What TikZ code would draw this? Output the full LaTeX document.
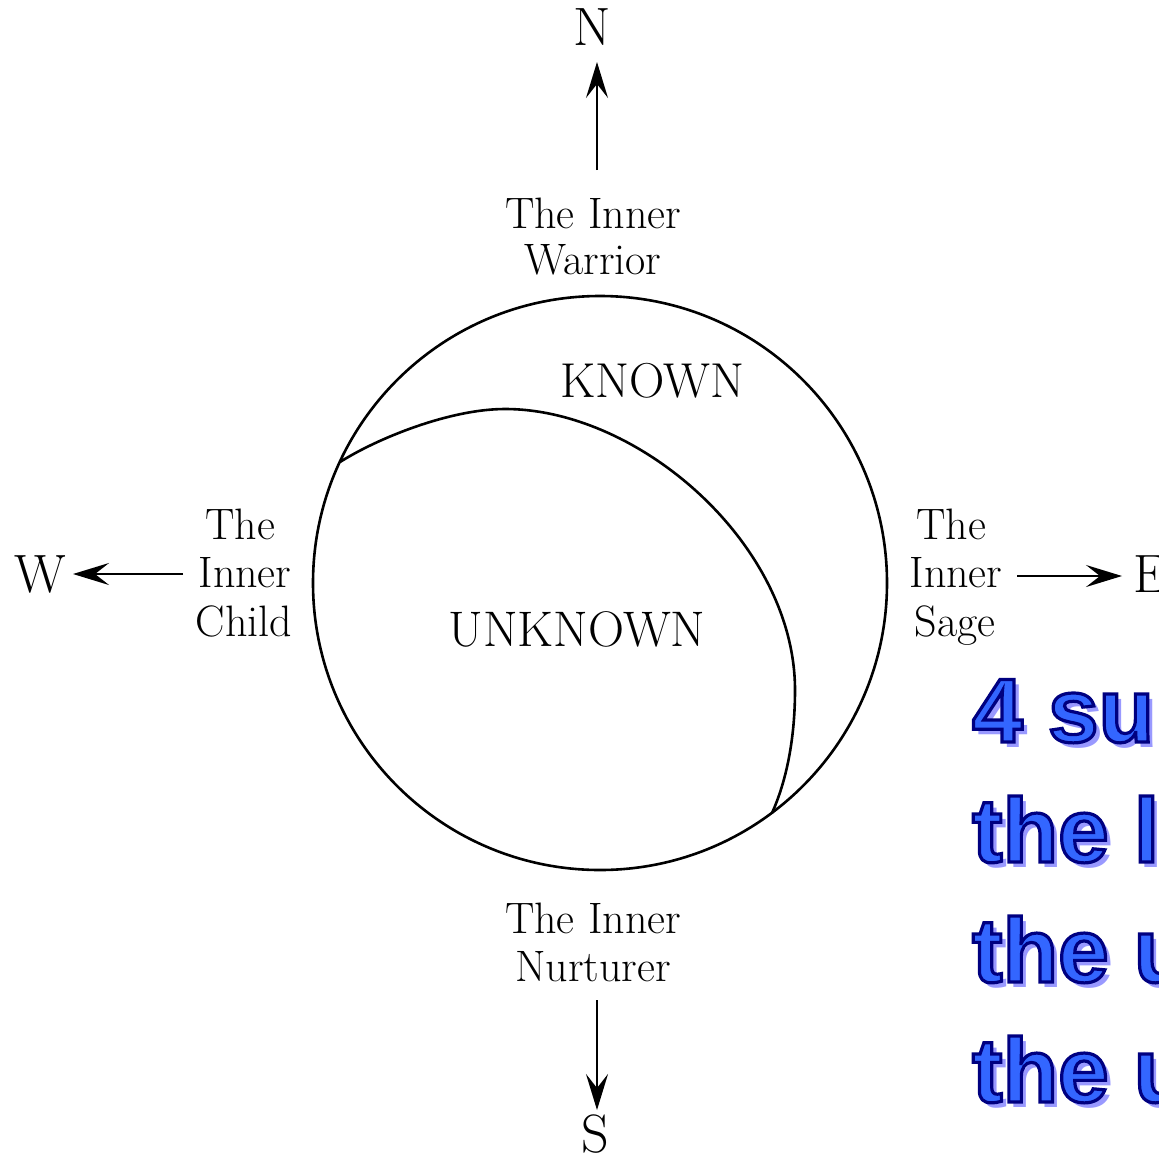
\documentclass[tikz,border=0pt]{standalone}
\usepackage{fontspec}
\usetikzlibrary{arrows.meta}
\newfontfamily\bluefont{Liberation Sans}
\definecolor{bfill}{HTML}{3366FF}
\definecolor{bline}{HTML}{000080}
\definecolor{bshadow}{HTML}{9999FF}
\newcommand\outlinetext[1]{\special{pdf:code 0 0 0.502 RG 3.2 w 2 Tr}#1\special{pdf:code 0 Tr}}
\newcommand\bluerow[4]{%
  \node[btxt, text=bshadow] (#1s) at (#2+5,#3+5) {#4};
  \node[btxt, text=bfill] (#1) at (#2,#3) {\outlinetext{#4}};
}
\begin{document}
\begin{tikzpicture}[x=1pt,y=-1pt,
  lbl/.style={anchor=base, inner sep=0pt, font=\fontsize{44}{48}\selectfont},
  cmp/.style={anchor=base, inner sep=0pt, font=\fontsize{54}{54}\selectfont},
  region/.style={anchor=base, inner sep=0pt, font=\fontsize{49}{48}\selectfont},
  arr/.style={line width=2.6pt, -{Stealth[length=36pt,width=22pt,inset=14pt]}},
  btxt/.style={anchor=base west, inner sep=0pt, font=\bluefont\bfseries\fontsize{91}{91}\selectfont}]
\useasboundingbox (0,0) rectangle (1159,1157);
\clip (0,0) rectangle (1159,1157);
\fill[white] (0,0) rectangle (1159,1157);

% circle
\node[circle, draw, line width=2.6pt, minimum size=574pt, inner sep=0pt] (C) at (600,583) {};
% inner boundary curve
\coordinate (ka) at (340,462);
\coordinate (kb) at (505,409);
\coordinate (kc) at (795,690);
\coordinate (kd) at (772,813);
\draw[line width=2.6pt] (ka) .. controls (378,438) and (450,409) .. (kb)
  .. controls (640,409) and (795,545) .. (kc)
  .. controls (795,740) and (786,782) .. (kd);

% region labels
\node[region] (known) at (652,397) {KNOWN};
\node[region, font=\fontsize{50}{48}\selectfont] (unknown) at (577,646) {UNKNOWN};

% compass letters
\node[cmp] (N) at (592,45) {N};
\node[cmp] (S) at (595,1152) {S};
\node[cmp, anchor=base west] (W) at (14,592) {W};
\node[cmp, anchor=base west] (E) at (1133,592) {E};

% labels
\node[lbl] (warA) at (593,228) {The Inner};
\node[lbl] (warB) at (593,274) {Warrior};
\node[lbl] (nurA) at (593,933) {The Inner};
\node[lbl] (nurB) at (593,981) {Nurturer};
\node[lbl] (chA) at (240,539) {The};
\node[lbl] (chB) at (245,587) {Inner};
\node[lbl] (chC) at (244,636) {Child};
\node[lbl] (sgA) at (951,539) {The};
\node[lbl] (sgB) at (956,587) {Inner};
\node[lbl] (sgC) at (955,636) {Sage};

% arrows
\coordinate (nS) at (597,170); \coordinate (nT) at (597,62);
\coordinate (sS) at (597,1000); \coordinate (sT) at (597,1110);
\coordinate (wS) at (183,574); \coordinate (wT) at (73,574);
\coordinate (eS) at (1017,576); \coordinate (eT) at (1122,576);
\draw[arr] (nS) -- (nT);
\draw[arr] (sS) -- (sT);
\draw[arr] (wS) -- (wT);
\draw[arr] (eS) -- (eT);

% blue text
\bluerow{b1}{972}{742}{4 su}
\bluerow{b2}{972}{862}{the l}
\bluerow{b3}{972}{982}{the u}
\bluerow{b4}{972}{1102}{the u}
\end{tikzpicture}
\end{document}
